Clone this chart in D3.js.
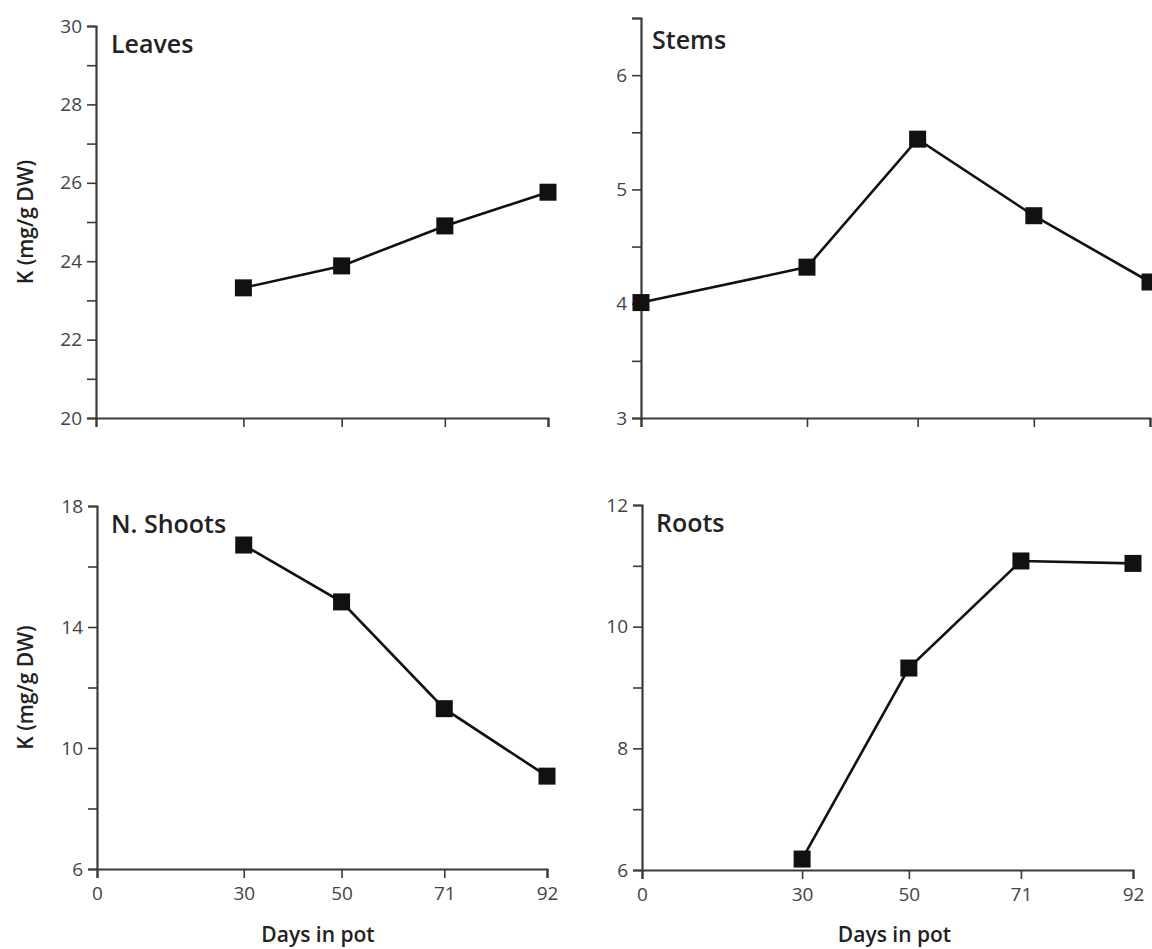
<!DOCTYPE html>
<html>
<head>
<meta charset="utf-8">
<script src="https://cdn.jsdelivr.net/npm/d3@7"></script>
<style>
  html, body { margin: 0; padding: 0; background: #fff; }
  svg { display: block; }
  text { font-family: "Open Sans", "Noto Sans", sans-serif; }
</style>
</head>
<body>
<svg id="chart" width="1152" height="949"></svg>
<script>
// ---- data ----
const days = [0, 30, 50, 71, 92];
const sampleDays = [30, 50, 71, 92];
const leavesK = [23.32, 23.88, 24.90, 25.76];
const stemsDays = [0, 30, 50, 71, 92];
const stemsK = [4.01, 4.32, 5.44, 4.77, 4.19];
const shootsK = [16.71, 14.83, 11.30, 9.07];
const rootsK = [6.18, 9.32, 11.08, 11.04];

const leavesTicks = [20, 21, 22, 23, 24, 25, 26, 27, 28, 29, 30];
const leavesLabels = [20, 22, 24, 26, 28, 30];
const stemsTicks = [3, 3.5, 4, 4.5, 5, 5.5, 6, 6.5];
const stemsLabels = [3, 4, 5, 6];
const shootsTicks = [6, 8, 10, 12, 14, 16, 18];
const shootsLabels = [6, 10, 14, 18];
const rootsTicks = [6, 7, 8, 9, 10, 11, 12];
const rootsLabels = [6, 8, 10, 12];

const yTitle = "K (mg/g DW)";
const xTitle = "Days in pot";

// ---- layout ----
const panels = [
  { title: "Leaves", xs: sampleDays, ys: leavesK, yDomain: [20, 30], ticks: leavesTicks, labels: leavesLabels,
    xRange: [96, 548], yRange: [418, 26], xLabels: false, yTitleShow: true, titlePos: [111, 53] },
  { title: "Stems", xs: stemsDays, ys: stemsK, yDomain: [3, 6.5], ticks: stemsTicks, labels: stemsLabels,
    xRange: [641, 1150], yRange: [418, 18], xLabels: false, yTitleShow: false, titlePos: [652, 49] },
  { title: "N. Shoots", xs: sampleDays, ys: shootsK, yDomain: [6, 18], ticks: shootsTicks, labels: shootsLabels,
    xRange: [97, 547], yRange: [869, 506], xLabels: true, yTitleShow: true, titlePos: [111, 533] },
  { title: "Roots", xs: sampleDays, ys: rootsK, yDomain: [6, 12], ticks: rootsTicks, labels: rootsLabels,
    xRange: [642, 1133], yRange: [870, 505], xLabels: true, yTitleShow: false, titlePos: [656, 532] }
];

const svg = d3.select("#chart");
const axisColor = "#3a3a3a";
const labelColor = "#444";

panels.forEach(p => {
  const x = d3.scaleLinear().domain([0, 92]).range(p.xRange);
  const y = d3.scaleLinear().domain(p.yDomain).range(p.yRange);
  const g = svg.append("g");

  // y axis
  const yAxis = d3.axisLeft(y).tickValues(p.ticks).tickSizeOuter(0).tickSize(9).tickPadding(5)
    .tickFormat(d => p.labels.includes(d) ? d3.format("d")(d) : "");
  const yg = g.append("g").attr("transform", `translate(${p.xRange[0]},0)`).call(yAxis);
  yg.select(".domain").attr("stroke", axisColor).attr("stroke-width", 2.2);
  yg.selectAll(".tick line").attr("stroke", axisColor).attr("stroke-width", 1.6);
  yg.selectAll(".tick text").attr("fill", labelColor).style("font-size", "19px")
    .style("font-family", "'Open Sans', sans-serif");

  // x axis
  const xAxis = d3.axisBottom(x).tickValues(days).tickSizeOuter(0).tickSize(9).tickPadding(9)
    .tickFormat(d => p.xLabels ? String(d) : "");
  const xg = g.append("g").attr("transform", `translate(0,${p.yRange[0]})`).call(xAxis);
  xg.select(".domain").attr("stroke", axisColor).attr("stroke-width", 2.2);
  xg.selectAll(".tick line").attr("stroke", axisColor).attr("stroke-width", 1.6);
  xg.selectAll(".tick text").attr("fill", labelColor).style("font-size", "19px")
    .style("font-family", "'Open Sans', sans-serif");

  // line
  const pts = p.xs.map((d, i) => [d, p.ys[i]]);
  const line = d3.line().x(d => x(d[0])).y(d => y(d[1]));
  g.append("path").datum(pts).attr("d", line)
    .attr("fill", "none").attr("stroke", "#111").attr("stroke-width", 2.6);

  // markers
  const s = 17;
  g.selectAll("rect.m").data(pts).enter().append("rect")
    .attr("class", "m")
    .attr("x", d => x(d[0]) - s / 2).attr("y", d => y(d[1]) - s / 2)
    .attr("width", s).attr("height", s).attr("fill", "#111");

  // panel title
  g.append("text").attr("x", p.titlePos[0]).attr("y", p.titlePos[1])
    .style("font-size", "25px").style("font-weight", 600).attr("fill", "#222")
    .text(p.title);

  // y title
  if (p.yTitleShow) {
    const cy = (p.yRange[0] + p.yRange[1]) / 2;
    g.append("text")
      .attr("transform", `translate(33,${cy}) rotate(-90)`)
      .attr("text-anchor", "middle")
      .style("font-size", "21px").style("font-weight", 600).attr("fill", "#222")
      .text(yTitle);
  }

  // x title
  if (p.xLabels) {
    const cx = (p.xRange[0] + p.xRange[1]) / 2 + (p.xRange[0] > 300 ? 7 : -4);
    g.append("text").attr("x", cx).attr("y", 942)
      .attr("text-anchor", "middle")
      .style("font-size", "21px").style("font-weight", 600).attr("fill", "#222")
      .text(xTitle);
  }
});
</script>
</body>
</html>
